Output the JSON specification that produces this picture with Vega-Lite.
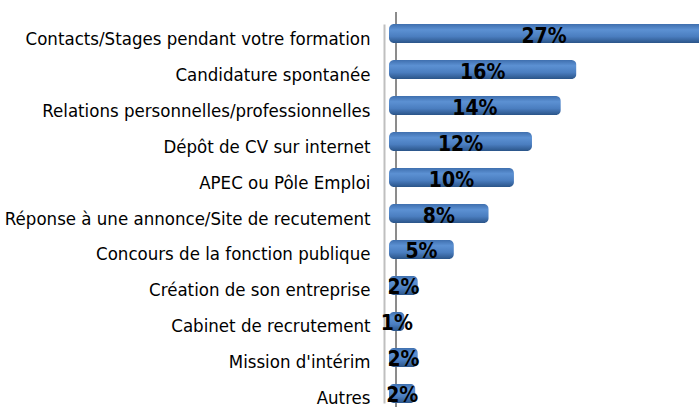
{
  "$schema": "https://vega.github.io/schema/vega-lite/v6.json",
  "autosize": {"type": "none"},
  "padding": {"left": 389, "top": 24, "right": 0, "bottom": 0},
  "width": 310,
  "height": 383,
  "background": "white",
  "data": {"values": [
    {"cat": "Contacts/Stages pendant votre formation", "value": 27, "label": "27%"},
    {"cat": "Candidature spontanée", "value": 15.6, "label": "16%"},
    {"cat": "Relations personnelles/professionnelles", "value": 14.3, "label": "14%"},
    {"cat": "Dépôt de CV sur internet", "value": 11.9, "label": "12%"},
    {"cat": "APEC ou Pôle Emploi", "value": 10.4, "label": "10%"},
    {"cat": "Réponse à une annonce/Site de recutement", "value": 8.3, "label": "8%"},
    {"cat": "Concours de la fonction publique", "value": 5.4, "label": "5%"},
    {"cat": "Création de son entreprise", "value": 2.4, "label": "2%"},
    {"cat": "Cabinet de recrutement", "value": 1.3, "label": "1%"},
    {"cat": "Mission d'intérim", "value": 2.4, "label": "2%"},
    {"cat": "Autres", "value": 2.2, "label": "2%"}
  ]},
  "transform": [{"calculate": "min(datum.value, 25.8) / 2", "as": "mid"}],
  "layer": [
    {
      "mark": {"type": "rule", "color": "#8C8C8C", "strokeWidth": 1.5, "y": -12, "y2": 383},
      "encoding": {"x": {"datum": 0.6, "type": "quantitative", "scale": {"domain": [0, 25.8], "nice": false, "zero": true}, "axis": null}}
    },
    {
      "mark": {
        "type": "bar", "cornerRadius": 5,
        "color": {
          "gradient": "linear", "x1": 0, "y1": 0, "x2": 0, "y2": 1,
          "stops": [
            {"offset": 0, "color": "#3F6FAE"},
            {"offset": 0.3, "color": "#5C91D3"},
            {"offset": 0.65, "color": "#4B7EC0"},
            {"offset": 1, "color": "#2A5488"}
          ]
        }
      },
      "encoding": {
        "y": {
          "field": "cat", "type": "nominal", "sort": null,
          "scale": {"range": [0, 379], "paddingInner": 0.47, "paddingOuter": 0},
          "axis": {
            "title": null, "ticks": false, "labelPadding": 14, "offset": 5,
            "domainColor": "#BFBFBF", "domainWidth": 2,
            "labelFont": "DejaVu Sans Condensed", "labelFontSize": 18.5, "labelColor": "#000000",
            "labelLimit": 400, "labelOffset": 5
          }
        },
        "x": {"field": "value", "type": "quantitative", "axis": null}
      }
    },
    {
      "mark": {"type": "text", "font": "DejaVu Sans Condensed", "fontWeight": "bold", "fontSize": 21, "color": "#000000", "dy": 3, "baseline": "middle", "align": "center"},
      "encoding": {
        "y": {"field": "cat", "type": "nominal", "sort": null},
        "x": {"field": "mid", "type": "quantitative"},
        "text": {"field": "label"}
      }
    }
  ],
  "config": {"view": {"stroke": null}}
}
